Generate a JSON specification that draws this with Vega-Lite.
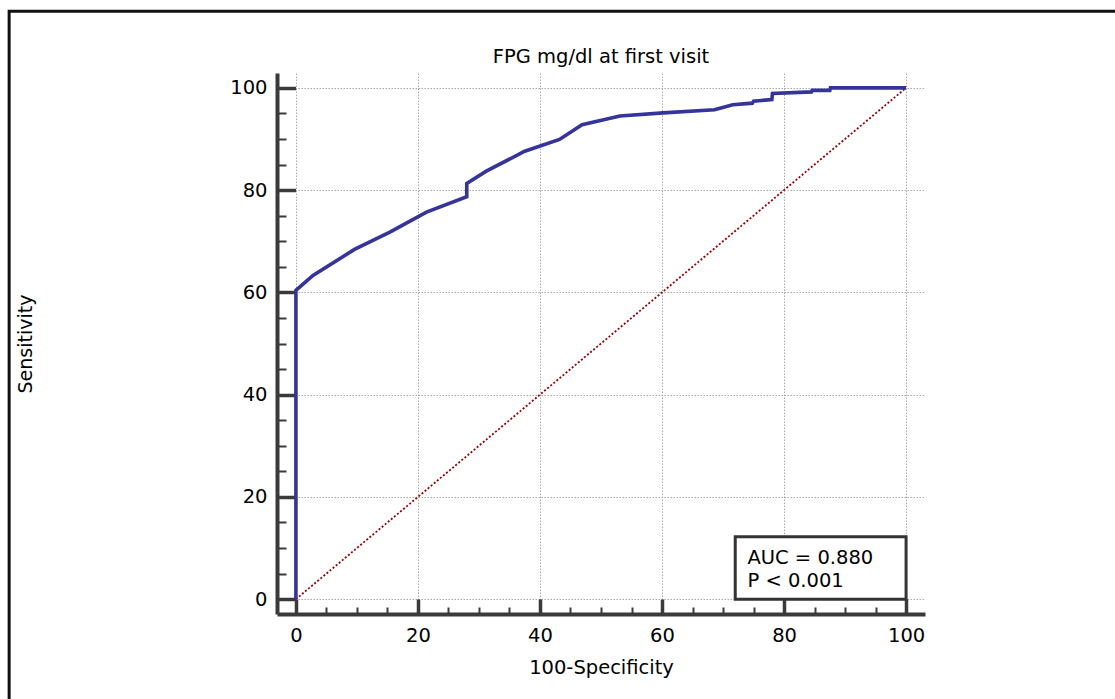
{
  "$schema": "https://vega.github.io/schema/vega-lite/v6.json",
  "width": 648,
  "height": 541,
  "autosize": {"type": "none"},
  "padding": {"left": 277, "top": 73, "right": 190, "bottom": 85},
  "background": "white",
  "config": {"view": {"stroke": null}, "font": "DejaVu Sans"},
  "title": {
    "text": "FPG mg/dl at first visit",
    "font": "DejaVu Sans",
    "fontSize": 19.5,
    "fontWeight": "normal",
    "color": "black",
    "anchor": "middle",
    "offset": 10,
    "dy": 82.5,
    "baseline": "alphabetic"
  },
  "datasets": {
    "roc": [
      {"i": 0, "fpr": 0, "tpr": 0},
      {"i": 1, "fpr": 0, "tpr": 60.4},
      {"i": 2, "fpr": 2.8, "tpr": 63.3},
      {"i": 3, "fpr": 9.6, "tpr": 68.4},
      {"i": 4, "fpr": 15.4, "tpr": 71.8},
      {"i": 5, "fpr": 21.4, "tpr": 75.7},
      {"i": 6, "fpr": 28.0, "tpr": 78.7},
      {"i": 7, "fpr": 28.0, "tpr": 81.3},
      {"i": 8, "fpr": 31.2, "tpr": 83.7},
      {"i": 9, "fpr": 37.5, "tpr": 87.6},
      {"i": 10, "fpr": 43.2, "tpr": 89.9},
      {"i": 11, "fpr": 46.9, "tpr": 92.8},
      {"i": 12, "fpr": 53.1, "tpr": 94.5},
      {"i": 13, "fpr": 60.2, "tpr": 95.1},
      {"i": 14, "fpr": 68.6, "tpr": 95.7},
      {"i": 15, "fpr": 71.6, "tpr": 96.7},
      {"i": 16, "fpr": 74.8, "tpr": 97.0},
      {"i": 17, "fpr": 75.0, "tpr": 97.4},
      {"i": 18, "fpr": 78.0, "tpr": 97.7},
      {"i": 19, "fpr": 78.1, "tpr": 98.9},
      {"i": 20, "fpr": 84.5, "tpr": 99.2},
      {"i": 21, "fpr": 84.6, "tpr": 99.5},
      {"i": 22, "fpr": 87.5, "tpr": 99.5},
      {"i": 23, "fpr": 87.6, "tpr": 100},
      {"i": 24, "fpr": 100, "tpr": 100}
    ],
    "diag": [
      {"fpr": 0, "tpr": 0},
      {"fpr": 100, "tpr": 100}
    ],
    "box": [
      {"x1": 72, "x2": 100, "y1": 0, "y2": 12.2}
    ],
    "stats": [
      {"t": "AUC = 0.880", "x": 74, "y": 8.1},
      {"t": "P < 0.001", "x": 74, "y": 3.5}
    ],
    "frame": [
      {"x1": -47.0, "x2": 170, "y1": -40, "y2": 115.0}
    ]
  },
  "layer": [
    {
      "data": {"name": "frame"},
      "mark": {"type": "rect", "filled": false, "stroke": "#111111", "strokeWidth": 3},
      "encoding": {
        "x": {"field": "x1", "type": "quantitative", "scale": {"domain": [-3.1, 103.1], "nice": false, "zero": false}, "axis": null},
        "x2": {"field": "x2"},
        "y": {"field": "y1", "type": "quantitative", "scale": {"domain": [-2.9, 102.9], "nice": false, "zero": false}, "axis": null},
        "y2": {"field": "y2"}
      }
    },
    {
      "data": {"name": "diag"},
      "mark": {"type": "line", "color": "#990000", "strokeWidth": 1.8, "strokeDash": [2, 2]},
      "encoding": {
        "x": {
          "field": "fpr", "type": "quantitative",
          "scale": {"domain": [-3.1, 103.1], "nice": false, "zero": false},
          "axis": {"orient": "bottom", "values": [5, 10, 15, 25, 30, 35, 45, 50, 55, 65, 70, 75, 85, 90, 95], "labels": false, "domain": false, "grid": false, "title": null, "tickSize": -7, "tickWidth": 2, "tickColor": "#3a3a3a"}
        },
        "y": {
          "field": "tpr", "type": "quantitative",
          "scale": {"domain": [-2.9, 102.9], "nice": false, "zero": false},
          "axis": {"orient": "left", "values": [5, 10, 15, 25, 30, 35, 45, 50, 55, 65, 70, 75, 85, 90, 95], "labels": false, "domain": false, "grid": false, "title": null, "tickSize": -9, "tickWidth": 2, "tickColor": "#3a3a3a"}
        }
      }
    },
    {
      "data": {"name": "roc"},
      "mark": {"type": "line", "color": "#34349a", "strokeWidth": 3.6, "strokeJoin": "miter"},
      "encoding": {
        "order": {"field": "i", "type": "quantitative"},
        "x": {
          "field": "fpr", "type": "quantitative",
          "scale": {"domain": [-3.1, 103.1], "nice": false, "zero": false},
          "axis": {
            "orient": "bottom",
            "values": [0, 20, 40, 60, 80, 100],
            "title": "100-Specificity",
            "grid": true, "gridColor": "#a8a8a8", "gridDash": [1.5, 1.5], "gridWidth": 1,
            "domainColor": "#3a3a3a", "domainWidth": 4,
            "tickColor": "#3a3a3a", "tickWidth": 3.5, "tickSize": -15,
            "labelPadding": 27,
            "labelFont": "DejaVu Sans", "labelFontSize": 19.5, "labelColor": "black",
            "labelFlush": false, "labelOverlap": false,
            "titleFont": "DejaVu Sans", "titleFontSize": 19.5, "titleFontWeight": "normal", "titleColor": "black",
            "titleY": 59, "titleBaseline": "alphabetic"
          }
        },
        "y": {
          "field": "tpr", "type": "quantitative",
          "scale": {"domain": [-2.9, 102.9], "nice": false, "zero": false},
          "axis": {
            "orient": "left",
            "values": [0, 20, 40, 60, 80, 100],
            "title": "Sensitivity",
            "grid": true, "gridColor": "#a8a8a8", "gridDash": [1.5, 1.5], "gridWidth": 1,
            "domainColor": "#3a3a3a", "domainWidth": 4,
            "tickColor": "#3a3a3a", "tickWidth": 3.5, "tickSize": -18.5,
            "labelPadding": 28.5,
            "labelFont": "DejaVu Sans", "labelFontSize": 19.5, "labelColor": "black",
            "labelFlush": false, "labelOverlap": false,
            "titleFont": "DejaVu Sans", "titleFontSize": 19, "titleFontWeight": "normal", "titleColor": "black",
            "titleX": -252, "titleBaseline": "middle"
          }
        }
      }
    },
    {
      "data": {"name": "box"},
      "mark": {"type": "rect", "fill": "white", "stroke": "#333333", "strokeWidth": 3},
      "encoding": {
        "x": {"field": "x1", "type": "quantitative", "scale": {"domain": [-3.1, 103.1], "nice": false, "zero": false}, "axis": null},
        "x2": {"field": "x2"},
        "y": {"field": "y1", "type": "quantitative", "scale": {"domain": [-2.9, 102.9], "nice": false, "zero": false}, "axis": null},
        "y2": {"field": "y2"}
      }
    },
    {
      "data": {"name": "stats"},
      "mark": {"type": "text", "align": "left", "baseline": "middle", "font": "DejaVu Sans", "fontSize": 19.5, "color": "black"},
      "encoding": {
        "x": {"field": "x", "type": "quantitative", "scale": {"domain": [-3.1, 103.1], "nice": false, "zero": false}, "axis": null},
        "y": {"field": "y", "type": "quantitative", "scale": {"domain": [-2.9, 102.9], "nice": false, "zero": false}, "axis": null},
        "text": {"field": "t"}
      }
    }
  ],
  "resolve": {"axis": {"x": "independent", "y": "independent"}}
}
